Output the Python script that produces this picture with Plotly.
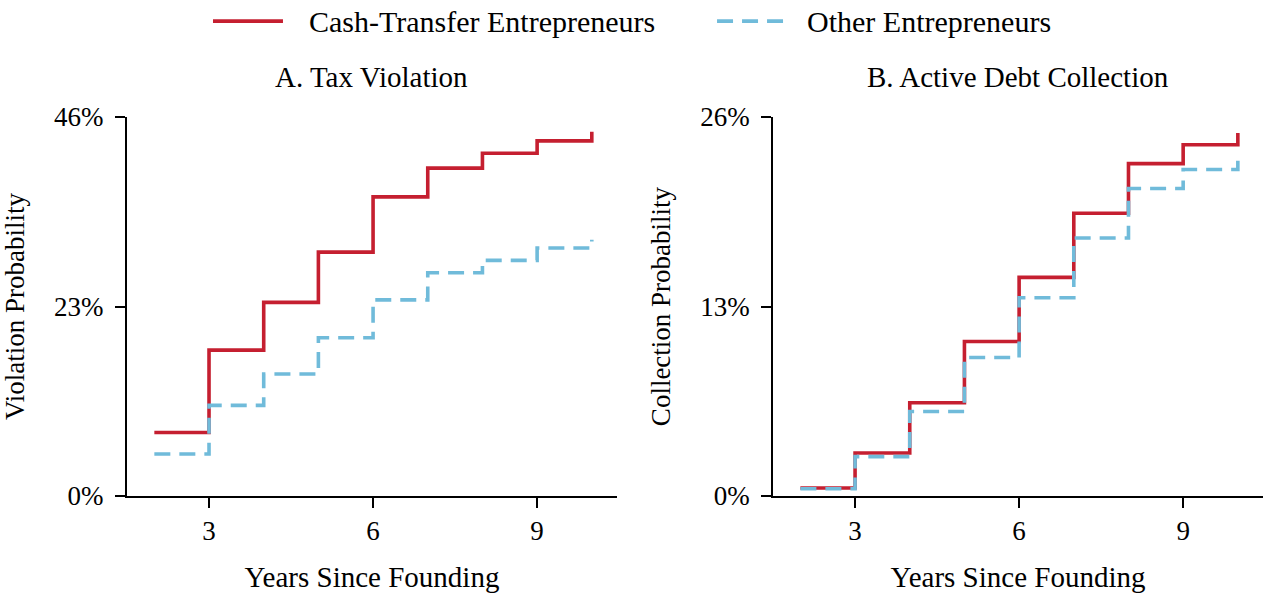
import plotly.graph_objects as go
from plotly.subplots import make_subplots

years = [2, 3, 4, 5, 6, 7, 8, 9, 10]

# Panel A: Tax violation probability (%)
tax_cash = [7.7, 17.7, 23.5, 29.6, 36.3, 39.8, 41.6, 43.1, 44.2]
tax_other = [5.1, 11.0, 14.8, 19.2, 23.8, 27.1, 28.6, 30.1, 31.1]

# Panel B: Active debt collection probability (%)
debt_cash = [0.55, 2.95, 6.4, 10.6, 15.0, 19.4, 22.8, 24.1, 24.9]
debt_other = [0.5, 2.7, 5.8, 9.5, 13.6, 17.7, 21.1, 22.4, 23.0]

x_ticks = [3, 6, 9]
tax_ticks = [0, 23, 46]
debt_ticks = [0, 13, 26]

panel_titles = ["A. Tax Violation", "B. Active Debt Collection"]
series_names = ["Cash-Transfer Entrepreneurs", "Other Entrepreneurs"]
RED = "#C51F30"
BLUE = "#70BBDA"
DASH = "16px,9px"
FONT = "Liberation Serif, Times New Roman, serif"
TXT = 29
TICK = 27

fig = make_subplots(rows=1, cols=2, horizontal_spacing=0.1374)

for col, (cash, other) in enumerate([(tax_cash, tax_other), (debt_cash, debt_other)], start=1):
    fig.add_trace(go.Scatter(x=years, y=cash, mode="lines", line_shape="hv",
                             name=series_names[0], showlegend=False,
                             line=dict(color=RED, width=3.6)), row=1, col=col)
    fig.add_trace(go.Scatter(x=years, y=other, mode="lines", line_shape="hv",
                             name=series_names[1], showlegend=False,
                             line=dict(color=BLUE, width=3.6, dash=DASH)), row=1, col=col)

axis_common = dict(showline=True, linecolor="black", linewidth=2, ticks="outside",
                   ticklen=10, tickwidth=2, tickcolor="black", showgrid=False,
                   zeroline=False, automargin=False,
                   tickfont=dict(size=TICK, family=FONT, color="black"))

for col in (1, 2):
    fig.update_xaxes(range=[1.5, 10.46], tickvals=x_ticks, ticktext=[str(t) for t in x_ticks],
                     title=dict(text="Years Since Founding", font=dict(size=TXT, family=FONT, color="black"),
                                standoff=22),
                     row=1, col=col, **axis_common)

fig.update_yaxes(range=[0, 46], tickvals=tax_ticks, ticktext=[f"{t}%" for t in tax_ticks],
                 ticklabelstandoff=6,
                 title=dict(text="Violation Probability", font=dict(size=27, family=FONT, color="black"),
                            standoff=28),
                 row=1, col=1, **axis_common)
fig.update_yaxes(range=[0, 26], tickvals=debt_ticks, ticktext=[f"{t}%" for t in debt_ticks],
                 ticklabelstandoff=6,
                 title=dict(text="Collection Probability", font=dict(size=27, family=FONT, color="black"),
                            standoff=22),
                 row=1, col=2, **axis_common)

# Panel titles
dom1 = fig.layout.xaxis.domain
dom2 = fig.layout.xaxis2.domain
for dom, title in zip([dom1, dom2], panel_titles):
    fig.add_annotation(text=title, xref="paper", yref="paper",
                       x=(dom[0] + dom[1]) / 2, y=1.1055, xanchor="center", yanchor="middle",
                       showarrow=False, font=dict(size=TXT, family=FONT, color="black"))

# Manual legend (line samples + labels)
LEG_Y = 1.253
legend_items = [
    (series_names[0], RED, "solid", 0.0757, 0.1373, 0.1585),
    (series_names[1], BLUE, DASH, 0.5194, 0.5810, 0.5968),
]
for name, color, dash, x0, x1, xt in legend_items:
    fig.add_shape(type="line", xref="paper", yref="paper", x0=x0, x1=x1, y0=LEG_Y, y1=LEG_Y,
                  line=dict(color=color, width=3.6, dash=dash))
    fig.add_annotation(text=name, xref="paper", yref="paper", x=xt, y=LEG_Y,
                       xanchor="left", yanchor="middle", showarrow=False,
                       font=dict(size=30, family=FONT, color="black"))

fig.update_layout(
    width=1265, height=593,
    margin=dict(l=127, r=2, t=117, b=97),
    plot_bgcolor="white", paper_bgcolor="white",
    font=dict(family=FONT, color="black"),
    showlegend=False,
)

# Remove the default page margin so the figure fills the window exactly.
fig.write_html("out.html", config={"displayModeBar": False},
               post_script="document.body.style.margin='0';")
